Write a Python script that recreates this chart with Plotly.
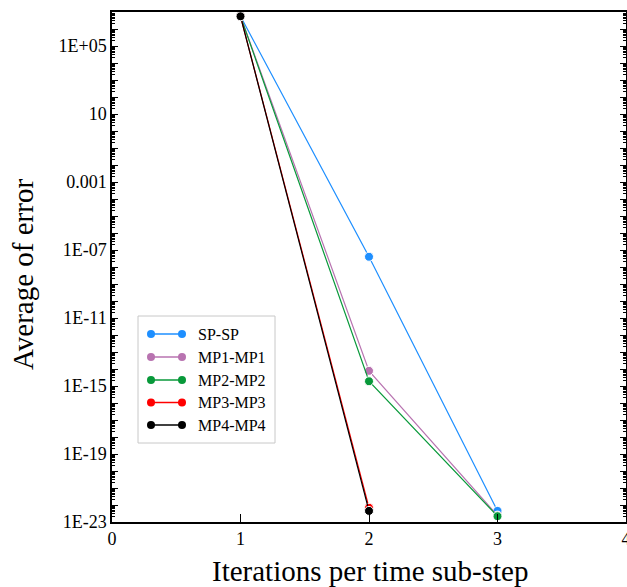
import plotly.graph_objects as go

# Convergence of the sub-step iterations: average error after each iteration
iterations = [1, 2, 3]
series_names = ["SP-SP", "MP1-MP1", "MP2-MP2", "MP3-MP3", "MP4-MP4"]
series_colors = ["#1E8FFF", "#B873B0", "#08993A", "#FF0000", "#000000"]
sp_sp = [5.6e6, 4.0e-8, 4.5e-23]
mp1_mp1 = [5.6e6, 7.8e-15, 2.4e-23]
mp2_mp2 = [5.6e6, 1.9e-15, 2.2e-23]
mp3_mp3 = [5.6e6, 6.9e-23]
mp4_mp4 = [5.6e6, 4.5e-23]
series_values = [sp_sp, mp1_mp1, mp2_mp2, mp3_mp3, mp4_mp4]

x_ticks = [0, 1, 2, 3, 4]
y_label_exps = [5, 1, -3, -7, -11, -15, -19, -23]
y_label_text = ["1E+05", "10", "0.001", "1E-07", "1E-11", "1E-15", "1E-19", "1E-23"]

FONT = "Liberation Serif, Times New Roman, serif"
W, H = 627, 587
ML, MR, MT, MB = 112, 1, 12, 65
PW, PH = W - ML - MR, H - MT - MB

fig = go.Figure()
for name, color, vals in zip(series_names, series_colors, series_values):
    fig.add_trace(go.Scatter(
        x=iterations[:len(vals)], y=vals, name=name, mode="lines+markers",
        line=dict(color=color, width=1.2),
        marker=dict(color=color, size=9, line=dict(color="white", width=1)),
        showlegend=False,
    ))

# y ticks: one per decade, labels every fourth decade, minor ticks 2..9
decades = list(range(-23, 8))
major_vals = [10.0 ** k for k in decades]
major_text = [y_label_text[y_label_exps.index(k)] if k in y_label_exps else "" for k in decades]
minor_vals = [m * 10.0 ** k for k in range(-23, 7) for m in range(2, 10)]

fig.update_xaxes(
    range=[0, 4], tickvals=x_ticks, ticktext=[str(v) for v in x_ticks],
    ticks="inside", ticklen=8, tickwidth=1, tickcolor="black",
    ticklabeloverflow="allow", automargin=False,
    showline=True, linecolor="black", linewidth=1.5, mirror=True,
    showgrid=False, zeroline=False,
    tickfont=dict(family=FONT, size=18, color="black"),
)
fig.update_yaxes(
    type="log", range=[-23, 7], automargin=False,
    tickmode="array", tickvals=major_vals, ticktext=major_text,
    ticks="inside", ticklen=6, tickwidth=1, tickcolor="black",
    minor=dict(tickmode="array", tickvals=minor_vals, ticks="inside",
               ticklen=3, tickwidth=1, tickcolor="black", showgrid=False),
    showline=True, linecolor="black", linewidth=1.5, mirror="ticks",
    showgrid=False, zeroline=False,
    tickfont=dict(family=FONT, size=18, color="black"),
)


def px(x):
    return (x - ML) / PW


def py(y):
    return (H - MB - y) / PH


shapes = []
annotations = []

# legend box
shapes.append(dict(type="rect", xref="paper", yref="paper",
                   x0=px(138), x1=px(275), y0=py(443), y1=py(316),
                   line=dict(color="#C8C8C8", width=1), fillcolor="white", layer="above"))
entry_y = [334, 357, 380, 402.5, 425]
for name, color, ey in zip(series_names, series_colors, entry_y):
    shapes.append(dict(type="line", xref="paper", yref="paper",
                       x0=px(151), x1=px(182), y0=py(ey), y1=py(ey),
                       line=dict(color=color, width=1.5), layer="above"))
    for cx in (151, 182):
        shapes.append(dict(type="circle", xref="paper", yref="paper",
                           xsizemode="pixel", ysizemode="pixel",
                           xanchor=px(cx), yanchor=py(ey),
                           x0=-4, x1=4, y0=-4, y1=4,
                           fillcolor=color, line=dict(color=color, width=0), layer="above"))
    annotations.append(dict(xref="paper", yref="paper", x=px(196), y=py(ey),
                            xanchor="left", yanchor="middle", showarrow=False,
                            text=name, font=dict(family=FONT, size=16, color="black")))

# axis titles
annotations.append(dict(xref="paper", yref="paper", x=px(370), y=py(571),
                        xanchor="center", yanchor="middle", showarrow=False,
                        text="Iterations per time sub-step",
                        font=dict(family=FONT, size=29, color="black")))
annotations.append(dict(xref="paper", yref="paper", x=px(23), y=py(275),
                        xanchor="center", yanchor="middle", showarrow=False,
                        textangle=-90, text="Average of error",
                        font=dict(family=FONT, size=29, color="black")))

fig.update_layout(
    width=W, height=H,
    margin=dict(l=ML, r=MR, t=MT, b=MB, autoexpand=False),
    paper_bgcolor="white", plot_bgcolor="white",
    shapes=shapes, annotations=annotations,
    showlegend=False,
)

fig.write_html("out.html")
